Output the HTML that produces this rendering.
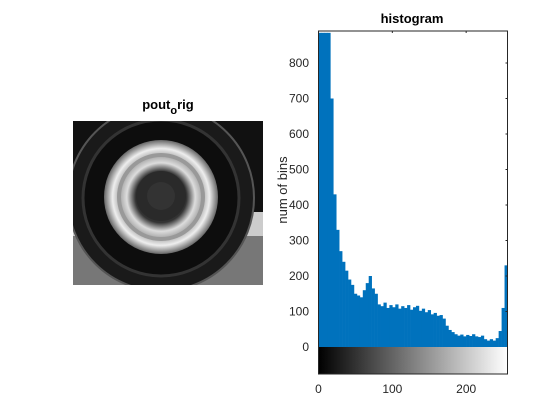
<!DOCTYPE html>
<html><head><meta charset="utf-8"><style>
body{margin:0;background:#fff;}
svg{display:block;font-family:"Liberation Sans",Arial,sans-serif;}
</style></head><body>
<svg id="fig" width="560" height="420" viewBox="0 0 560 420">
<defs>
<linearGradient id="cb" x1="0" x2="1" y1="0" y2="0"><stop offset="0" stop-color="#000"/><stop offset="1" stop-color="#fff"/></linearGradient>
<radialGradient id="rim" cx="0.5" cy="0.5" r="0.5"><stop offset="0.45" stop-color="#333"/><stop offset="0.6" stop-color="#ddd"/><stop offset="0.72" stop-color="#aaa"/><stop offset="0.85" stop-color="#eee"/><stop offset="1" stop-color="#666"/></radialGradient>
<clipPath id="imgclip"><rect x="73" y="121" width="190" height="164"/></clipPath>
</defs>
<g>
<text x="168" y="109" font-size="13" font-weight="bold" text-anchor="middle">pout<tspan dy="5" font-size="11">o</tspan><tspan dy="-5">rig</tspan></text>
<g clip-path="url(#imgclip)">
<rect x="73" y="121" width="190" height="164" fill="#111"/>
<rect x="73" y="212" width="190" height="73" fill="#ccc"/>
<rect x="73" y="236" width="190" height="49" fill="#777"/>
<circle cx="161" cy="198" r="93" fill="#1a1a1a" stroke="#555" stroke-width="2"/>
<circle cx="161" cy="198" r="78" fill="#0d0d0d" stroke="#333" stroke-width="3"/>
<circle cx="161" cy="197" r="57" fill="url(#rim)"/>
<circle cx="161" cy="197" r="42" fill="none" stroke="#999" stroke-width="4"/>
<circle cx="161" cy="196" r="25" fill="#2a2a2a"/>
<circle cx="161" cy="196" r="14" fill="#333"/>
</g>
</g>
<g>
<text x="412" y="23" font-size="13" font-weight="bold" text-anchor="middle">histogram</text>
<text transform="translate(287,190) rotate(-90)" font-size="13" fill="#262626" text-anchor="middle">num of bins</text>
<g id="bars"></g>
<rect x="318.5" y="347" width="189" height="27" fill="url(#cb)"/>
<g id="ticks"></g>
<rect x="318.5" y="31" width="189" height="343" fill="none" stroke="#262626" stroke-width="1"/>
</g>
<script>
const binGroups = [0,4,8,12,16,20,24,28,32,36,40,44,48,52,56,60,64,68,72,76,80,84,88,92,96,100,104,108,112,116,120,124,128,132,136,140,144,148,152,156,160,164,168,172,176,180,184,188,192,196,200,204,208,212,216,220,224,228,232,236,240,244,248,252];
const counts = [885,885,885,885,700,430,330,270,240,215,190,175,150,145,140,160,180,200,165,150,120,115,125,110,118,112,120,108,115,110,118,105,112,116,102,108,98,104,92,96,88,90,80,60,48,42,36,32,35,30,34,31,36,30,28,32,22,18,22,18,25,45,110,230];
const xTicks = [0,100,200];
const yTicks = [0,100,200,300,400,500,600,700,800];
const binWidth = 4;
const X0=318.5, X1=507.5, XMAX=256, Y0=347, YPER=0.355, YTOP=31;
const xs = v => X0 + v/XMAX*(X1-X0);
const ys = v => Math.max(YTOP, Y0 - v*YPER);
const NS="http://www.w3.org/2000/svg";
const bars=document.getElementById('bars');
binGroups.forEach((b,i)=>{
  const r=document.createElementNS(NS,'rect');
  const x=xs(b), w=xs(b+binWidth)-x, y=ys(counts[i]);
  r.setAttribute('x',x);r.setAttribute('width',w+0.3);
  r.setAttribute('y',y);r.setAttribute('height',Y0-y);
  r.setAttribute('fill','#0072bd');
  
  
  bars.appendChild(r);
});
const tk=document.getElementById('ticks');
xTicks.forEach(v=>{
  const t=document.createElementNS(NS,'text');
  t.setAttribute('x',xs(v));t.setAttribute('y',393);
  t.setAttribute('font-size','12');t.setAttribute('fill','#262626');t.setAttribute('text-anchor','middle');
  t.textContent=v;
  
  
  tk.appendChild(t);
});
yTicks.forEach(v=>{
  const y=Y0-v*YPER;
  const t=document.createElementNS(NS,'text');
  t.setAttribute('x',309);t.setAttribute('y',y+4);
  t.setAttribute('font-size','12');t.setAttribute('fill','#262626');t.setAttribute('text-anchor','end');
  t.textContent=v;
  
  
  tk.appendChild(t);
  if(v>0){
    const l=document.createElementNS(NS,'line');
    l.setAttribute('x1',X1-2);l.setAttribute('x2',X1);l.setAttribute('y1',y);l.setAttribute('y2',y);
    l.setAttribute('stroke','#262626');
    
    
    tk.appendChild(l);
  }
});
xTicks.forEach(v=>{
  const l=document.createElementNS(NS,'line');
  l.setAttribute('x1',xs(v));l.setAttribute('x2',xs(v));l.setAttribute('y1',YTOP);l.setAttribute('y2',YTOP+2);
  l.setAttribute('stroke','#262626');
  
  
  tk.appendChild(l);
});
</script>
</svg>
</body></html>
